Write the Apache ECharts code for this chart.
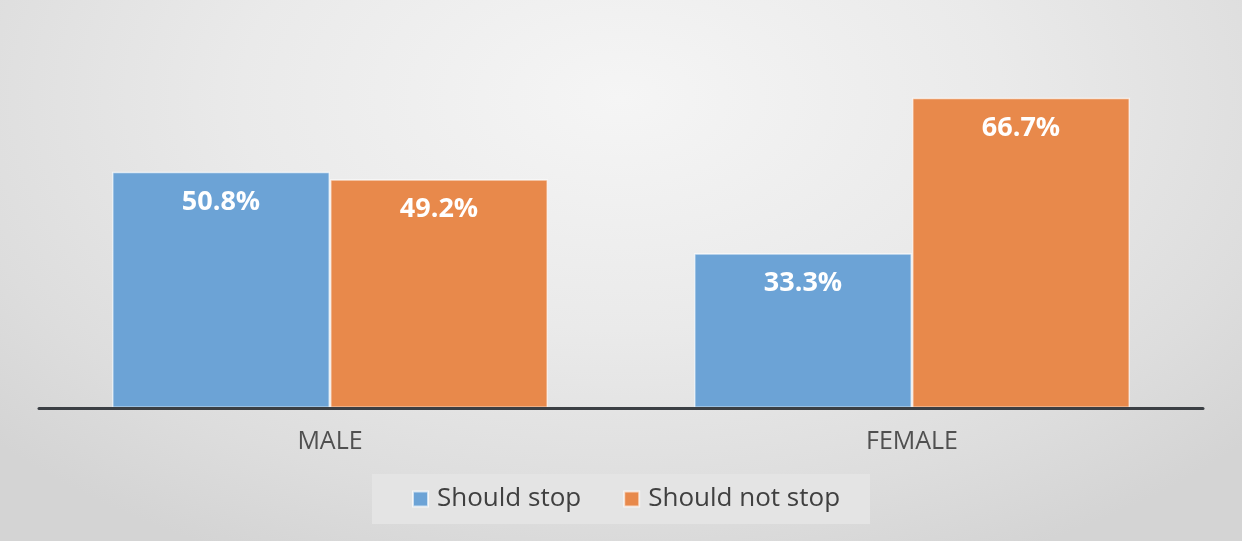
<!DOCTYPE html>
<html>
<head>
<meta charset="utf-8">
<script src="https://cdn.jsdelivr.net/npm/echarts@6/dist/echarts.min.js"></script>
<style>
  html, body { margin: 0; padding: 0; }
  #chart {
    width: 1242px; height: 541px;
    background: radial-gradient(ellipse 68% 95% at 50% 18%, #f5f5f5 0%, #eaeaea 45%, #dddddd 80%, #d4d4d4 100%);
  }
</style>
</head>
<body>
<div id="chart"></div>
<script>
const categories = ['MALE', 'FEMALE'];
const seriesNames = ['Should stop', 'Should not stop'];
const shouldStop = [50.8, 33.3];
const shouldNotStop = [49.2, 66.7];
const seriesColors = ['#6ca3d6', '#e8894b'];

const chart = echarts.init(document.getElementById('chart'), null, { renderer: 'canvas' });

const fontFam = '"Open Sans", sans-serif';

function makeSeries(name, data, color) {
  return {
    name: name,
    type: 'bar',
    data: data,
    barWidth: 218,
    barGap: '0%',
    itemStyle: { color: color, borderColor: 'rgba(255,255,255,0.65)', borderWidth: 1.5 },
    label: {
      show: true,
      position: 'insideTop',
      distance: 17,
      formatter: p => p.value.toFixed(1) + '%',
      color: '#ffffff',
      fontFamily: fontFam,
      fontWeight: 'bold',
      fontSize: 27
    }
  };
}

chart.setOption({
  backgroundColor: 'transparent',
  animation: false,
  grid: { left: 39, right: 39, top: 36, bottom: 133 },
  legend: {
    data: seriesNames,
    left: 372,
    top: 474,
    padding: [12, 30, 12, 40],
    backgroundColor: '#e4e4e4',
    itemWidth: 15,
    itemHeight: 15,
    itemGap: 42,
    icon: 'rect',
    textStyle: { color: '#404040', fontFamily: fontFam, fontSize: 26, padding: [0, 0, 0, 4] }
  },
  xAxis: {
    type: 'category',
    data: categories,
    z: 5,
    axisLine: { lineStyle: { color: '#3b3f44', width: 3 } },
    axisTick: { show: false },
    axisLabel: { color: '#505050', fontFamily: fontFam, fontSize: 25, margin: 21 }
  },
  yAxis: {
    type: 'value',
    min: 0,
    max: 80,
    interval: 10,
    show: false,
    splitLine: { show: false }
  },
  series: [
    makeSeries(seriesNames[0], shouldStop, seriesColors[0]),
    makeSeries(seriesNames[1], shouldNotStop, seriesColors[1])
  ]
});
</script>
</body>
</html>
